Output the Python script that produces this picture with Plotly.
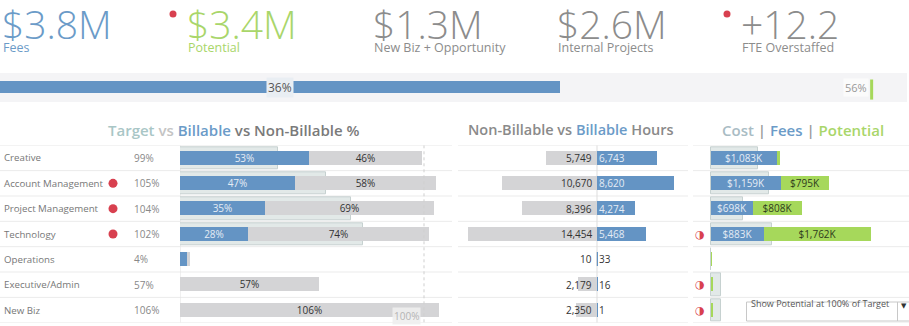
import plotly.graph_objects as go

# ---- headline figures ----
kpi_values = ["$3.8M", "$3.4M", "$1.3M", "$2.6M", "+12.2"]
kpi_labels = ["Fees", "Potential", "New Biz + Opportunity", "Internal Projects", "FTE Overstaffed"]
kpi_alert = [False, True, False, False, True]

# ---- overall utilisation ----
overall_billable_pct = 36
overall_target_pct = 56

# ---- department rows ----
departments = ["Creative", "Account Management", "Project Management", "Technology",
               "Operations", "Executive/Admin", "New Biz"]
dept_alert = [False, True, True, True, False, False, False]
total_pct = [99, 105, 104, 102, 4, 57, 106]
target_pct = [40, 60, 70, 75, 0, 0, 0]
billable_pct = [53, 47, 35, 28, 3, 0, 0]
nonbillable_pct = [46, 58, 69, 74, 1, 57, 106]

nonbillable_hours = [5749, 10670, 8396, 14454, 10, 2179, 2350]
billable_hours = [6743, 8620, 4274, 5468, 33, 16, 1]

cost_k = [770, 965, 525, 1010, 0, 160, 160]
fees_k = [1083, 1159, 698, 883, 0, 0, 0]
potential_k = [55, 795, 808, 1762, 12, 22, 22]
cost_alert = [False, False, False, True, False, True, True]

# ---- styling ----
W, H = 909, 326
FONT = "Open Sans"
BLUE = "#6494c4"
BLUE_TXT = "#6b9bc8"
GREEN = "#a6d85b"
GREEN_TXT = "#a9d66a"
GRAY_BAR = "#d4d4d6"
GRAY_TXT = "#8c8c8c"
TARGET_FILL = "#e2e9e8"
TARGET_LINE = "#c6d1d0"
RED = "#d8404f"
SEP = "#ebebeb"
KPI_X = [2, 187, 373, 557, 741]


def px(x):
    return x / W


def py(y):
    return 1 - y / H


fig = go.Figure()

bar_text = dict(textposition="inside", insidetextanchor="middle", constraintext="none",
                textangle=0)

# overall utilisation bar
fig.add_trace(go.Bar(x=[overall_billable_pct], y=[0], orientation="h", width=0.4,
                     marker=dict(color=BLUE, line=dict(width=0)),
                     xaxis="x", yaxis="y", hoverinfo="skip"))

# target % (background), billable %, non-billable %
fig.add_trace(go.Bar(x=target_pct, y=departments, orientation="h", width=0.88,
                     marker=dict(color=TARGET_FILL, line=dict(color=TARGET_LINE, width=1)),
                     xaxis="x2", yaxis="y2", hoverinfo="skip"))
fig.add_trace(go.Bar(x=billable_pct, y=departments, orientation="h", width=0.56,
                     marker=dict(color=BLUE, line=dict(width=0)),
                     text=[f"{v}%" if v >= 10 else "" for v in billable_pct],
                     textfont=dict(family=FONT, size=10, color="#e4ecf5"), **bar_text,
                     xaxis="x2", yaxis="y2", hoverinfo="skip"))
fig.add_trace(go.Bar(x=nonbillable_pct, base=billable_pct, y=departments, orientation="h", width=0.56,
                     marker=dict(color=GRAY_BAR, line=dict(width=0)),
                     text=[f"{v}%" if v >= 10 else "" for v in nonbillable_pct],
                     textfont=dict(family=FONT, size=10, color="#333333"), **bar_text,
                     xaxis="x2", yaxis="y2", hoverinfo="skip"))

# hours: non-billable to the left, billable to the right
fig.add_trace(go.Bar(x=[-v for v in nonbillable_hours], y=departments, orientation="h", width=0.56,
                     marker=dict(color=GRAY_BAR, line=dict(width=0)),
                     xaxis="x3", yaxis="y2", hoverinfo="skip"))
fig.add_trace(go.Bar(x=billable_hours, y=departments, orientation="h", width=0.56,
                     marker=dict(color=BLUE, line=dict(width=0)),
                     xaxis="x3", yaxis="y2", hoverinfo="skip"))

# cost (background), fees, potential
fig.add_trace(go.Bar(x=cost_k, y=departments, orientation="h", width=0.88,
                     marker=dict(color=TARGET_FILL, line=dict(color=TARGET_LINE, width=1)),
                     xaxis="x4", yaxis="y2", hoverinfo="skip"))
fig.add_trace(go.Bar(x=fees_k, y=departments, orientation="h", width=0.56,
                     marker=dict(color=BLUE, line=dict(width=0)),
                     text=[f"${v:,}K" if v >= 200 else "" for v in fees_k],
                     textfont=dict(family=FONT, size=10, color="#e4ecf5"), **bar_text,
                     xaxis="x4", yaxis="y2", hoverinfo="skip"))
fig.add_trace(go.Bar(x=potential_k, base=fees_k, y=departments, orientation="h", width=0.56,
                     marker=dict(color=GREEN, line=dict(width=0)),
                     text=[f"${v:,}K" if v >= 200 else "" for v in potential_k],
                     textfont=dict(family=FONT, size=10, color="#2f3b1c"), **bar_text,
                     xaxis="x4", yaxis="y2", hoverinfo="skip"))

# alert dots beside department names
alert_rows = [d for d, a in zip(departments, dept_alert) if a]
fig.add_trace(go.Scatter(x=[px(113)] * len(alert_rows), y=alert_rows, mode="markers",
                         marker=dict(color=RED, size=9, line=dict(width=0)),
                         xaxis="x5", yaxis="y2", hoverinfo="skip"))

ann = []
shapes = []

# headline numbers
for i, (val, lab, alert) in enumerate(zip(kpi_values, kpi_labels, kpi_alert)):
    color = BLUE_TXT if i == 0 else GREEN_TXT if i == 1 else GRAY_TXT
    ann.append(dict(text=val, x=px(KPI_X[i]), y=py(23), xref="paper", yref="paper",
                    xanchor="left", yanchor="middle", showarrow=False, xshift=-2,
                    font=dict(family=FONT, size=39, color=color, weight=300)))
    ann.append(dict(text=lab, x=px(KPI_X[i]), y=py(47), xref="paper", yref="paper",
                    xanchor="left", yanchor="middle", showarrow=False, xshift=-1,
                    font=dict(family=FONT, size=12.5, color=color)))
    if alert:
        cx = KPI_X[i] - 14
        shapes.append(dict(type="circle", xref="paper", yref="paper",
                           x0=px(cx - 3.5), x1=px(cx + 3.5), y0=py(17.5), y1=py(10.5),
                           fillcolor=RED, line=dict(width=0), layer="above"))

# utilisation band + target marker
shapes.append(dict(type="rect", xref="paper", yref="paper", x0=0, x1=px(907),
                   y0=py(102), y1=py(73), fillcolor="#f4f4f6", line=dict(width=0), layer="below"))
shapes.append(dict(type="line", xref="x", yref="y", x0=overall_target_pct, x1=overall_target_pct,
                   y0=-0.42, y1=0.25, line=dict(color=GREEN, width=3), layer="above"))
ann.append(dict(text=f"{overall_billable_pct}%", x=overall_billable_pct / 2, y=0, xref="x", yref="y",
                xanchor="center", showarrow=False, bgcolor="#e9eef3", borderpad=1,
                font=dict(family=FONT, size=12, color="#555555")))
ann.append(dict(text=f"{overall_target_pct}%", x=overall_target_pct, y=0, xref="x", yref="y",
                xanchor="right", xshift=-3, showarrow=False, bgcolor="#fbfbfb", borderpad=1,
                font=dict(family=FONT, size=11, color="#999999")))

# section titles
ann.append(dict(text=("<span style='color:#a9c6c6'>Target</span>"
                      "<span style='color:#c4c4c4'> vs </span>"
                      f"<span style='color:{BLUE_TXT}'>Billable</span>"
                      "<span style='color:#7a7a7a'> vs Non-Billable %</span>"),
                x=px(234), y=py(130), xref="paper", yref="paper", xanchor="center",
                showarrow=False, font=dict(family=FONT, size=15, weight=600)))
ann.append(dict(text=("<span style='color:#8a8a8a'>Non-Billable vs </span>"
                      f"<span style='color:{BLUE_TXT}'>Billable</span>"
                      "<span style='color:#8a8a8a'> Hours</span>"),
                x=px(571), y=py(130), xref="paper", yref="paper", xanchor="center",
                showarrow=False, font=dict(family=FONT, size=14.5, weight=600)))
ann.append(dict(text=("<span style='color:#a9bcc4'>Cost</span>"
                      "<span style='color:#999999'> | </span>"
                      f"<span style='color:{BLUE_TXT}'>Fees</span>"
                      "<span style='color:#999999'> | </span>"
                      f"<span style='color:{GREEN_TXT}'>Potential</span>"),
                x=px(803), y=py(130), xref="paper", yref="paper", xanchor="center",
                showarrow=False, font=dict(family=FONT, size=15, weight=600)))

# row labels and values
for i, d in enumerate(departments):
    ann.append(dict(text=d, x=px(4), y=d, xref="paper", yref="y2", xanchor="left", xshift=-2,
                    showarrow=False, font=dict(family=FONT, size=9.7, color="#777777")))
    ann.append(dict(text=f"{total_pct[i]}%", x=px(134), y=d, xref="paper", yref="y2",
                    xanchor="left", xshift=-2, showarrow=False,
                    font=dict(family=FONT, size=10, color="#888888")))
    ann.append(dict(text=f"{nonbillable_hours[i]:,}", x=0, y=d, xref="x3", yref="y2",
                    xanchor="right", xshift=-3, showarrow=False,
                    font=dict(family=FONT, size=10, color="#333333")))
    bcol = "#e4ecf5" if billable_hours[i] > 2000 else "#333333"
    ann.append(dict(text=f"{billable_hours[i]:,}", x=0, y=d, xref="x3", yref="y2",
                    xanchor="left", xshift=0, showarrow=False,
                    font=dict(family=FONT, size=10, color=bcol)))
    if cost_alert[i]:
        ann.append(dict(text="\u25d1", x=px(700), y=d, xref="paper", yref="y2",
                        xanchor="center", showarrow=False,
                        font=dict(family="DejaVu Sans", size=11, color=RED)))

# 100% reference
shapes.append(dict(type="line", xref="x2", yref="y2", x0=100, x1=100, y0=-0.5, y1=6.5,
                   line=dict(color="#cfcfcf", width=1, dash="dot"), layer="above"))
shapes.append(dict(type="line", xref="x2", yref="y2", x0=0, x1=0, y0=-0.5, y1=6.5,
                   line=dict(color="#e2e2e2", width=1), layer="below"))
shapes.append(dict(type="line", xref="x3", yref="y2", x0=0, x1=0, y0=-0.5, y1=6.5,
                   line=dict(color="#dddddd", width=1), layer="below"))
ann.append(dict(text="100%", x=100, y="New Biz", xref="x2", yref="y2", xanchor="right",
                xshift=-3, yshift=-6, showarrow=False, bgcolor="rgba(238,238,238,0.9)",
                font=dict(family=FONT, size=10, color="#b4b4b4")))

# row separators per section
for k in range(len(departments) + 1):
    yv = k - 0.5
    for x0, x1 in [(0, 452), (458, 688), (693, 909)]:
        shapes.append(dict(type="line", xref="paper", yref="y2", x0=px(x0), x1=px(x1),
                           y0=yv, y1=yv, line=dict(color=SEP, width=1), layer="below"))

# parameter control
shapes.append(dict(type="rect", xref="paper", yref="paper", x0=px(746.5), x1=px(912),
                   y0=py(321), y1=py(302), fillcolor="white",
                   line=dict(color="#c8c8c8", width=1), layer="above"))
shapes.append(dict(type="line", xref="paper", yref="paper", x0=px(897.5), x1=px(897.5),
                   y0=py(321), y1=py(302), line=dict(color="#c8c8c8", width=1), layer="above"))
ann.append(dict(text="Show Potential at 100% of Target", x=px(749), y=py(311.5),
                xref="paper", yref="paper", xanchor="left", showarrow=False,
                font=dict(family=FONT, size=9, color="#555555")))
ann.append(dict(text="\u25bc", x=px(903.5), y=py(311.5), xref="paper", yref="paper",
                xanchor="center", showarrow=False,
                font=dict(family="DejaVu Sans", size=7, color="#333333")))

hidden = dict(visible=False, fixedrange=True, showgrid=False, zeroline=False)
ydom = [py(322.7), py(145.3)]
fig.update_layout(
    width=W, height=H, margin=dict(l=0, r=0, t=0, b=0),
    paper_bgcolor="white", plot_bgcolor="rgba(0,0,0,0)",
    barmode="overlay", showlegend=False, bargap=0,
    font=dict(family=FONT),
    xaxis=dict(domain=[0, 1], range=[0, 58.4], anchor="y", **hidden),
    yaxis=dict(domain=[py(102), py(72)], range=[-0.5, 0.5], anchor="x", **hidden),
    xaxis2=dict(domain=[px(180), px(452)], range=[0, (452 - 180) / 2.44], anchor="y2", **hidden),
    xaxis3=dict(domain=[px(458), px(688)], range=[-(597 - 458) / 0.0089, (688 - 597) / 0.0089],
                anchor="y2", **hidden),
    xaxis4=dict(domain=[px(693), px(909)], range=[-(711 - 693) / 0.0605, (909 - 711) / 0.0605],
                anchor="y2", **hidden),
    xaxis5=dict(domain=[0, 1], range=[0, 1], anchor="y2", **hidden),
    yaxis2=dict(domain=ydom, type="category", categoryorder="array", categoryarray=departments,
                range=[6.5, -0.5], anchor="x2", **hidden),
    annotations=ann, shapes=shapes,
)

fig.write_html("out.html")
